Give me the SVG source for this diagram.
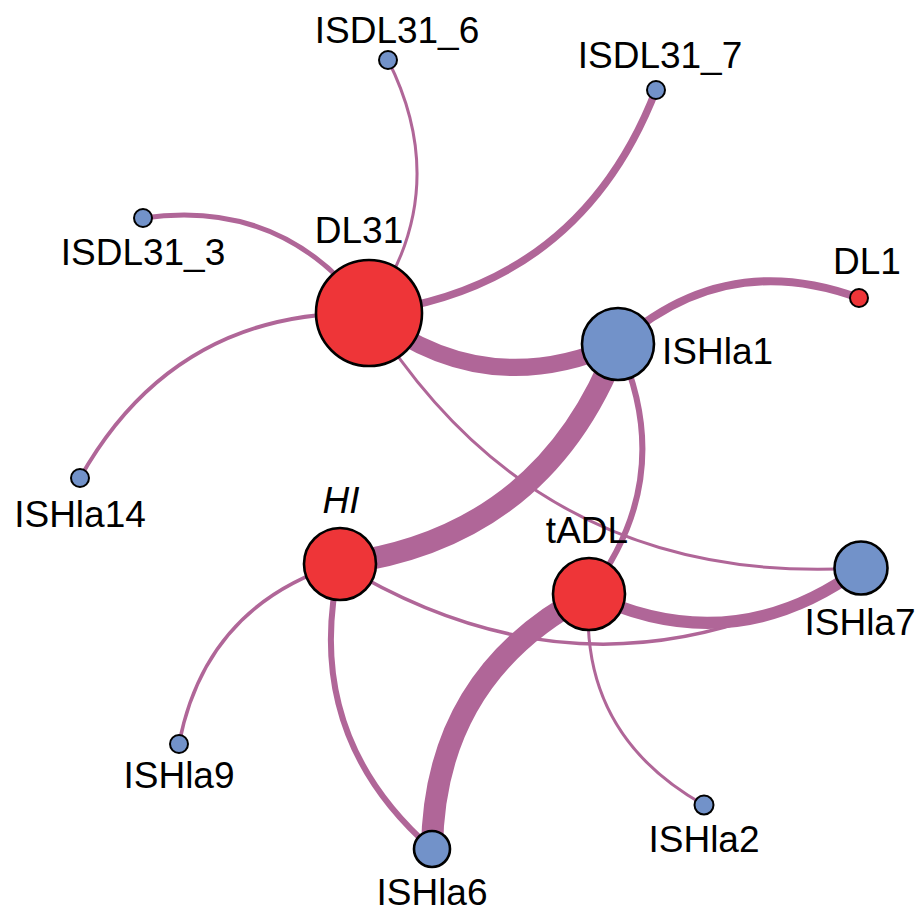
<svg xmlns="http://www.w3.org/2000/svg" width="924" height="914" viewBox="0 0 924 914">
  <style>
    .edge { fill: none; stroke: #b06698; stroke-linecap: butt; }
    .node { stroke: #000; stroke-width: 2.6; }
    .small { stroke-width: 2; }
    .red { fill: #ee3538; }
    .blue { fill: #7292c9; }
    .label { font-family: "Liberation Sans", Arial, Helvetica, sans-serif; font-size: 37px; fill: #000; }
    .mid { text-anchor: middle; }
  </style>
  <rect width="924" height="914" fill="#fff"/>

  <!-- connectors: quadratic arcs, bent clockwise -->
  <g id="edges">
    <path class="edge" stroke-width="3" d="M369,313 Q454.4,192.2 388,60"/>
    <path class="edge" stroke-width="7.5" d="M369,313 Q579.4,287.6 656,90"/>
    <path class="edge" stroke-width="5" d="M369,313 Q284.5,197.7 143,218"/>
    <path class="edge" stroke-width="4" d="M369,313 Q175,308.8 80,478"/>
    <path class="edge" stroke-width="17" d="M369,313 Q484.2,403.2 618,344"/>
    <path class="edge" stroke-width="3" d="M369,313 Q538.5,588.1 861,568"/>
    <path class="edge" stroke-width="8" d="M859,298 Q724.7,248.7 618,344"/>
    <path class="edge" stroke-width="22" d="M340,564 Q545,537.4 618,344"/>
    <path class="edge" stroke-width="6" d="M589,594 Q678.5,477.7 618,344"/>
    <path class="edge" stroke-width="3.5" d="M340,564 Q205.5,605.7 179,744"/>
    <path class="edge" stroke-width="6" d="M340,564 Q300.5,734.1 432,849"/>
    <path class="edge" stroke-width="3.5" d="M340,564 Q599.3,722.3 861,568"/>
    <path class="edge" stroke-width="12" d="M589,594 Q732.8,662.6 861,568"/>
    <path class="edge" stroke-width="22" d="M589,594 Q434,674.4 432,849"/>
    <path class="edge" stroke-width="3" d="M589,594 Q578,734 704,805"/>
  </g>

  <g id="DL31"><circle class="node red" cx="369" cy="313" r="53"/><text class="label mid" x="359" y="243">DL31</text></g>
  <g id="ISDL31_6"><circle class="node small blue" cx="388" cy="60" r="9"/><text class="label mid" x="397" y="43">ISDL31_6</text></g>
  <g id="ISDL31_7"><circle class="node small blue" cx="656" cy="90" r="9"/><text class="label mid" x="660" y="68">ISDL31_7</text></g>
  <g id="ISDL31_3"><circle class="node small blue" cx="143" cy="218" r="9"/><text class="label mid" x="143" y="265">ISDL31_3</text></g>
  <g id="ISHla14"><circle class="node small blue" cx="80" cy="478" r="9"/><text class="label mid" x="80" y="527">ISHla14</text></g>
  <g id="DL1"><circle class="node small red" cx="859" cy="298" r="9"/><text class="label mid" x="867" y="274">DL1</text></g>
  <g id="ISHla1"><circle class="node blue" cx="618" cy="344" r="36"/><text class="label" x="662" y="364">ISHla1</text></g>
  <g id="HI"><circle class="node red" cx="340" cy="564" r="36"/><text class="label mid" x="341" y="513" font-style="italic">HI</text></g>
  <g id="tADL"><circle class="node red" cx="589" cy="594" r="36"/><text class="label mid" x="587" y="543">tADL</text></g>
  <g id="ISHla7"><circle class="node blue" cx="861" cy="568" r="26.5"/><text class="label mid" x="860" y="635">ISHla7</text></g>
  <g id="ISHla9"><circle class="node small blue" cx="179" cy="744" r="9"/><text class="label mid" x="179" y="788">ISHla9</text></g>
  <g id="ISHla6"><circle class="node blue" cx="432" cy="849" r="18"/><text class="label mid" x="432" y="905">ISHla6</text></g>
  <g id="ISHla2"><circle class="node small blue" cx="704" cy="805" r="9.5"/><text class="label mid" x="704" y="852">ISHla2</text></g>
</svg>
